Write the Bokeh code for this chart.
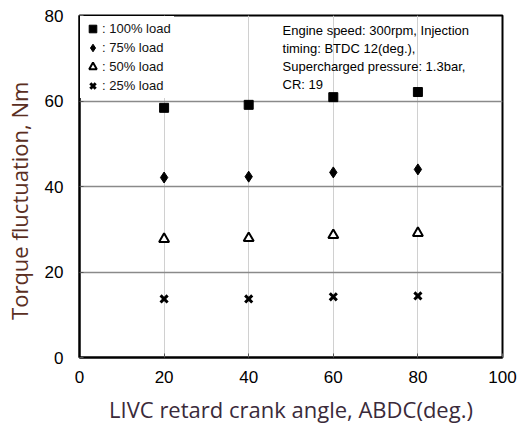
from bokeh.plotting import figure
from bokeh.models import Legend, LegendItem, Label, FixedTicker, Range1d
from bokeh.embed import file_html
from bokeh.resources import INLINE

angle = [20, 40, 60, 80]
load100 = [58.4, 59.1, 60.9, 62.1]
load75 = [42.1, 42.3, 43.3, 44.0]
load50 = [27.7, 27.9, 28.6, 29.1]
load25 = [13.7, 13.7, 14.2, 14.4]
labels = [": 100% load", ": 75% load", ": 50% load", ": 25% load"]
note_lines = ["Engine speed: 300rpm, Injection",
              "timing: BTDC 12(deg.),",
              "Supercharged pressure: 1.3bar,",
              "CR: 19"]
x_title = "LIVC retard crank angle, ABDC(deg.)"
y_title = "Torque fluctuation, Nm"

p = figure(width=518, height=426, output_backend="svg", toolbar_location=None,
           x_range=Range1d(0, 100), y_range=Range1d(0, 80),
           min_border_left=79, min_border_right=16, min_border_top=15, min_border_bottom=67)

p.outline_line_color = "black"
p.outline_line_width = 2

for ax in (p.xaxis[0], p.yaxis[0]):
    ax.axis_line_color = "black"
    ax.axis_line_width = 2
    ax.major_tick_in = 4
    ax.major_tick_out = 0
    ax.minor_tick_in = 0
    ax.minor_tick_out = 0
    ax.major_label_text_font = "Liberation Sans"
    ax.major_label_text_font_size = "17px"
    ax.major_label_text_color = "black"
    ax.axis_label_text_font = "Open Sans"
    ax.axis_label_text_font_style = "normal"
    ax.axis_label_text_font_size = "22px"
    ax.major_tick_line_color = "#555555"

p.xaxis[0].ticker = FixedTicker(ticks=[0, 20, 40, 60, 80, 100])
p.yaxis[0].ticker = FixedTicker(ticks=[0, 20, 40, 60, 80])
p.xaxis[0].major_label_standoff = 13
p.yaxis[0].major_label_standoff = 16
p.xaxis[0].axis_label = x_title
p.yaxis[0].axis_label = y_title + "\u00a0" * 5
p.xaxis[0].axis_label_text_color = "#3a2a3a"
p.yaxis[0].axis_label_text_color = "#5a2e22"
p.xaxis[0].axis_label_standoff = 8
p.yaxis[0].axis_label_standoff = 8

p.xgrid[0].ticker = FixedTicker(ticks=[20, 40, 60, 80])
p.ygrid[0].ticker = FixedTicker(ticks=[20, 40, 60])
p.xgrid[0].grid_line_color = "#d0d0d0"
p.xgrid[0].grid_line_width = 1
p.ygrid[0].grid_line_color = "#8a8a8a"
p.ygrid[0].grid_line_width = 1.5

r1 = p.scatter(angle, load100, marker="square", size=9, color="black")
r2 = p.scatter(angle, load75, marker="diamond", size=11, color="black")
r3 = p.scatter(angle, load50, marker="triangle", size=10, fill_color="white",
               line_color="black", line_width=2)
r4 = p.scatter(angle, load25, marker="x", size=10, line_color="black", line_width=3)

legend = Legend(items=[LegendItem(label=labels[i], renderers=[r])
                       for i, r in enumerate([r1, r2, r3, r4])],
                location="top_left", border_line_alpha=0,
                background_fill_color="white", background_fill_alpha=1,
                label_text_font="Liberation Sans", label_text_font_size="13px",
                label_text_color="#111111",
                glyph_width=19, glyph_height=19, label_standoff=-5,
                spacing=0, padding=3, margin=1, label_height=19)
p.add_layout(legend)

for i, line in enumerate(note_lines):
    p.add_layout(Label(x=48.0, y=78.3 - i * 4.2, text=line,
                       text_font="Liberation Sans", text_font_size="13px",
                       text_color="black", text_baseline="top"))

open("out.html", "w").write(file_html(p, INLINE))
